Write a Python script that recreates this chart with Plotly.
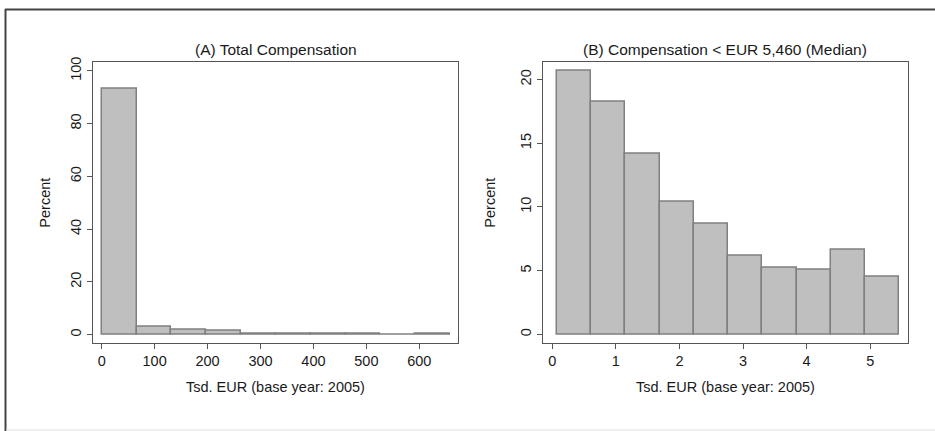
import plotly.graph_objects as go

W, H = 935, 431

# panel A: total compensation, bins of ~65.8 Tsd. EUR
a_edges = [0, 65.8, 131.6, 197.4, 263.2, 329.0, 394.8, 460.6, 526.4, 592.2, 658.0]
a_pct = [93.1, 3.1, 1.9, 1.4, 0.5, 0.5, 0.2, 0.2, 0.0, 0.2]

# panel B: compensation below median (5.46 Tsd. EUR)
b_edges = [0.069, 0.609, 1.149, 1.689, 2.226, 2.766, 3.303, 3.843, 4.382, 4.921, 5.46]
b_pct = [20.7, 18.3, 14.2, 10.45, 8.7, 6.15, 5.25, 5.1, 6.62, 4.53]

a_ticks_x = [0, 100, 200, 300, 400, 500, 600]
a_ticks_y = [0, 20, 40, 60, 80, 100]
b_ticks_x = [0, 1, 2, 3, 4, 5]
b_ticks_y = [0, 5, 10, 15, 20]

title_a = "(A) Total Compensation"
title_b = "(B) Compensation < EUR 5,460 (Median)"
xlab = "Tsd. EUR (base year: 2005)"
ylab = "Percent"

FILL = "#bfbfbf"
EDGE = "#808080"
FRAME = "#555555"
TXT = "#1a1a1a"
FONT = "Liberation Sans, Arial, sans-serif"


def bars(edges, pct, xa, ya):
    mids = [(edges[i] + edges[i + 1]) / 2 for i in range(len(pct))]
    wids = [edges[i + 1] - edges[i] for i in range(len(pct))]
    return go.Bar(x=mids, y=pct, width=wids, xaxis=xa, yaxis=ya,
                  marker=dict(color=FILL, line=dict(color=EDGE, width=1.5)),
                  showlegend=False, hoverinfo="x+y")


fig = go.Figure()
fig.add_trace(bars(a_edges, a_pct, "x", "y"))
fig.add_trace(bars(b_edges, b_pct, "x2", "y2"))

ydom = [1 - 341.7 / H, 1 - 57.3 / H]
ax_common = dict(showline=True, mirror=True, linecolor=FRAME, linewidth=1,
                 showgrid=False, zeroline=False, ticks="outside", ticklen=5,
                 tickcolor=FRAME, tickfont=dict(size=14.5, color=TXT, family=FONT))

fig.update_layout(
    width=W, height=H,
    margin=dict(l=0, r=0, t=0, b=0),
    paper_bgcolor="white", plot_bgcolor="white",
    bargap=0,
    xaxis=dict(domain=[93 / W, 458.3 / W], range=[-16.4, 673.6],
               tickvals=a_ticks_x, anchor="y", **ax_common),
    yaxis=dict(domain=ydom, range=[-3.1, 103.5], tickvals=a_ticks_y,
               tickangle=-90, anchor="x", **ax_common),
    xaxis2=dict(domain=[543 / W, 908.3 / W], range=[-0.146, 5.6],
                tickvals=b_ticks_x, anchor="y2", **ax_common),
    yaxis2=dict(domain=ydom, range=[-0.65, 21.4], tickvals=b_ticks_y,
                tickangle=-90, anchor="x2", **ax_common),
)

# outer frame like the exported Stata graph
fig.add_shape(type="line", xref="paper", yref="paper", x0=5 / W, x1=1, y0=1 - 4.5 / H, y1=1 - 4.5 / H,
              line=dict(color="#444444", width=2))
fig.add_shape(type="line", xref="paper", yref="paper", x0=5.5 / W, x1=5.5 / W, y0=0, y1=1 - 4 / H,
              line=dict(color="#444444", width=2))
fig.add_shape(type="line", xref="paper", yref="paper", x0=6 / W, x1=1, y0=1 - 430 / H, y1=1 - 430 / H,
              line=dict(color="#dddddd", width=1))

ann = [
    (275.7, 45, title_a, 0, 15.5),
    (725, 45, title_b, 0, 15.5),
    (275.7, 386, xlab, 0, 14.5),
    (725, 386, xlab, 0, 14.5),
    (45, 200, ylab, -90, 14.5),
    (490, 200, ylab, -90, 14.5),
]
for x, y, t, ang, fs in ann:
    fig.add_annotation(x=x / W, y=1 - y / H, xref="paper", yref="paper", text=t,
                       showarrow=False, textangle=ang, xanchor="center", yanchor="middle",
                       font=dict(size=fs, color=TXT, family=FONT))

fig.write_html("out.html", config={"displayModeBar": False},
               post_script="document.body.style.margin='0';")
